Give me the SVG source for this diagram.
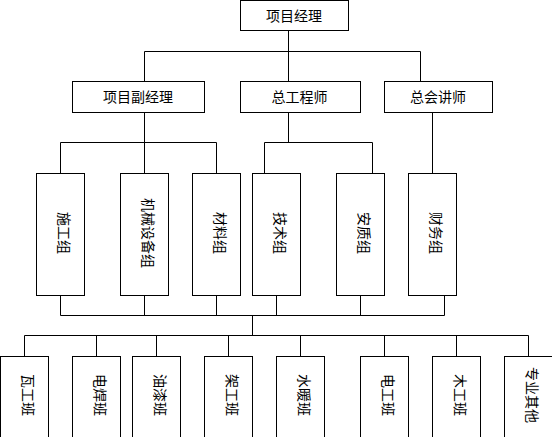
<svg xmlns="http://www.w3.org/2000/svg" width="552" height="437" viewBox="0 0 552 437">
<style>
.b{fill:#fff;stroke:#000;stroke-width:1}
.c{fill:none;stroke:#000;stroke-width:1}
text{font-family:"Noto Sans CJK SC","Noto Sans",sans-serif;font-size:14px;fill:#000;text-anchor:middle;dominant-baseline:central}
</style>
<rect width="552" height="437" fill="#fff"/>
<g id="connectors" class="c">
<path d="M288.5 30.5V81.5M144.5 81.5V51.5H420.5V81.5"/>
<path d="M144.5 112.5V173.5M60.5 173.5V142.5H216.5V173.5"/>
<path d="M288.5 112.5V142.5M264.5 173.5V142.5H372.5V173.5"/>
<path d="M432.5 112.5V173.5"/>
<path d="M60.5 295.5V315.5H444.5V295.5M144.5 295.5V315.5M216.5 295.5V315.5M276.5 295.5V315.5M360.5 295.5V315.5"/>
<path d="M252.5 315.5V335.5M24.5 356.5V335.5H528.5V356.5M96.5 335.5V356.5M156.5 335.5V356.5M228.5 335.5V356.5M300.5 335.5V356.5M384.5 335.5V356.5M456.5 335.5V356.5"/>
</g>
<g id="pm"><rect class="b" x="240.5" y="0.5" width="108" height="30"/><text x="294" y="15">项目经理</text></g>
<g id="dpm"><rect class="b" x="72.5" y="81.5" width="132" height="31"/><text x="138" y="96">项目副经理</text></g>
<g id="ce"><rect class="b" x="240.5" y="81.5" width="120" height="31"/><text x="299.5" y="96">总工程师</text></g>
<g id="ca"><rect class="b" x="384.5" y="81.5" width="108" height="31"/><text x="438" y="96">总会讲师</text></g>
<g id="g1"><rect class="b" x="36.5" y="173.5" width="48" height="122"/><text transform="translate(64.5,233) rotate(90)">施工组</text></g>
<g id="g2"><rect class="b" x="120.5" y="173.5" width="48" height="122"/><text transform="translate(148.5,233) rotate(90)">机械设备组</text></g>
<g id="g3"><rect class="b" x="192.5" y="173.5" width="48" height="122"/><text transform="translate(220.5,233) rotate(90)">材料组</text></g>
<g id="g4"><rect class="b" x="252.5" y="173.5" width="48" height="122"/><text transform="translate(280.5,233) rotate(90)">技术组</text></g>
<g id="g5"><rect class="b" x="336.5" y="173.5" width="48" height="122"/><text transform="translate(364.5,233) rotate(90)">安质组</text></g>
<g id="g6"><rect class="b" x="408.5" y="173.5" width="48" height="122"/><text transform="translate(436.5,233) rotate(90)">财务组</text></g>
<g id="t1"><rect class="b" x="0.5" y="356.5" width="48" height="90"/><text transform="translate(28.5,395) rotate(90)">瓦工班</text></g>
<g id="t2"><rect class="b" x="72.5" y="356.5" width="48" height="90"/><text transform="translate(100.5,395) rotate(90)">电焊班</text></g>
<g id="t3"><rect class="b" x="132.5" y="356.5" width="48" height="90"/><text transform="translate(160.5,395) rotate(90)">油漆班</text></g>
<g id="t4"><rect class="b" x="204.5" y="356.5" width="48" height="90"/><text transform="translate(232.5,395) rotate(90)">架工班</text></g>
<g id="t5"><rect class="b" x="276.5" y="356.5" width="48" height="90"/><text transform="translate(304.5,395) rotate(90)">水暖班</text></g>
<g id="t6"><rect class="b" x="360.5" y="356.5" width="48" height="90"/><text transform="translate(388.5,395) rotate(90)">电工班</text></g>
<g id="t7"><rect class="b" x="432.5" y="356.5" width="48" height="90"/><text transform="translate(460.5,395) rotate(90)">木工班</text></g>
<g id="t8"><rect class="b" x="504.5" y="356.5" width="48" height="90"/><text transform="translate(532.5,395) rotate(90)">专业其他</text></g>
</svg>
